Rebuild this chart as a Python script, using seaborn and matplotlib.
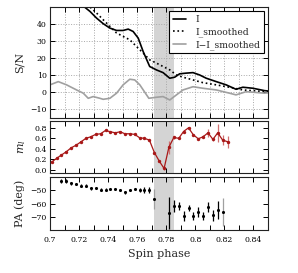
import matplotlib
matplotlib.use("Agg")
import matplotlib.pyplot as plt
import seaborn as sns
import pandas as pd

# ---------------- data ----------------
phase_I = [0.700, 0.706, 0.711, 0.718, 0.723, 0.7275, 0.732, 0.7366, 0.7412, 0.7458,
           0.7503, 0.7538, 0.7572, 0.7607, 0.7641, 0.7686, 0.7732, 0.7778, 0.7824, 0.7858,
           0.7892, 0.7938, 0.7984, 0.803, 0.8075, 0.8144, 0.8212, 0.828, 0.8327, 0.8396,
           0.8476, 0.850]
I_vals = [76, 71, 66, 56, 50.5, 47.4, 43.5, 40.2, 37.6, 36.2,
          36.2, 37.0, 35.6, 31.7, 23.8, 15.0, 13.0, 11.4, 8.1, 8.7,
          10.7, 11.1, 11.4, 10.0, 8.1, 6.1, 4.2, 1.6, 2.8, 2.2,
          0.8, 0.6]

phase_S = [0.700, 0.710, 0.720, 0.7275, 0.732, 0.7366, 0.7412, 0.7458, 0.7503, 0.7549,
           0.7595, 0.7641, 0.7686, 0.7732, 0.7778, 0.7824, 0.787, 0.7915, 0.7984, 0.8052,
           0.8144, 0.8235, 0.8327, 0.8476, 0.850]
S_vals = [72, 63, 55, 50, 46.5, 42.5, 38.6, 34.7, 32.7, 30.7,
          26.8, 22.9, 18.9, 17.0, 15.0, 13.0, 10.0, 8.7, 7.1, 5.5,
          4.2, 2.8, 1.2, 0.2, 0.1]

phase_R = [0.700, 0.7057, 0.7114, 0.7183, 0.7229, 0.7263, 0.7297, 0.7343, 0.7366, 0.7412,
           0.7458, 0.7503, 0.7549, 0.7583, 0.7618, 0.7680, 0.7732, 0.7778, 0.7824, 0.787,
           0.7915, 0.7984, 0.8052, 0.8144, 0.8235, 0.828, 0.835, 0.8476, 0.850]
R_vals = [4.2, 6.1, 4.2, 1.2, -0.7, -3.7, -2.7, -3.7, -4.3, -3.7,
          -0.7, 4.2, 7.5, 7.1, 4.2, -3.7, -3.1, -2.7, -4.7, -1.7,
          1.2, 3.1, 2.2, 1.2, -0.7, -1.7, 0.2, -0.7, -0.5]

phase_m = [0.7012, 0.7046, 0.7079, 0.7113, 0.7146, 0.7180, 0.7214, 0.7247, 0.7281, 0.7314,
           0.7348, 0.7382, 0.7415, 0.7449, 0.7482, 0.7516, 0.7550, 0.7583, 0.7617, 0.7650,
           0.7684, 0.7718, 0.7751, 0.7785, 0.7818, 0.7852, 0.7886, 0.7919, 0.7953, 0.7986,
           0.8020, 0.8054, 0.8087, 0.8121, 0.8154, 0.8188, 0.8222]
m_vals = [0.15, 0.22, 0.283, 0.347, 0.42, 0.47, 0.535, 0.60, 0.63, 0.675,
          0.687, 0.75, 0.725, 0.705, 0.725, 0.687, 0.687, 0.675, 0.61, 0.60,
          0.566, 0.33, 0.17, 0.026, 0.43, 0.617, 0.60, 0.73, 0.80, 0.668,
          0.592, 0.63, 0.705, 0.58, 0.705, 0.566, 0.535]
m_err = [0.01, 0.01, 0.01, 0.01, 0.01, 0.01, 0.01, 0.01, 0.01, 0.01,
         0.01, 0.01, 0.01, 0.01, 0.01, 0.01, 0.01, 0.01, 0.01, 0.01,
         0.015, 0.02, 0.02, 0.02, 0.12, 0.03, 0.02, 0.02, 0.02, 0.02,
         0.02, 0.03, 0.075, 0.03, 0.17, 0.095, 0.11]

phase_pa = [0.7079, 0.7113, 0.7146, 0.7180, 0.7214, 0.7247, 0.7281, 0.7314, 0.7348, 0.7382,
            0.7415, 0.7449, 0.7482, 0.7516, 0.7550, 0.7583, 0.7617, 0.7650, 0.7684, 0.7718,
            0.7818, 0.7852, 0.7886, 0.7919, 0.7953, 0.7986, 0.8020, 0.8054, 0.8087, 0.8121,
            0.8154, 0.8188]
pa_vals = [-43.2, -43.2, -45.1, -45.6, -46.9, -46.9, -48.8, -48.5, -49.8, -49.8,
           -49.3, -49.3, -50.0, -51.9, -50.0, -49.3, -50.0, -50.0, -50.0, -56.6,
           -67.0, -61.9, -61.9, -69.5, -63.4, -69.3, -66.3, -69.3, -62.7, -68.8,
           -64.6, -66.3]
pa_err = [1.5, 1.5, 1.0, 1.0, 1.0, 1.0, 1.0, 1.0, 1.0, 1.0,
          1.0, 1.0, 1.0, 1.0, 1.0, 1.0, 1.5, 2.0, 2.5, 7.3,
          11.6, 4.2, 3.0, 3.7, 2.4, 3.0, 3.9, 3.0, 3.7, 4.3,
          6.7, 10.0]

shade_range = [0.7715, 0.7853]

x_ticks = [0.70, 0.71, 0.72, 0.73, 0.74, 0.75, 0.76, 0.77, 0.78, 0.79,
           0.80, 0.81, 0.82, 0.83, 0.84, 0.85]
x_tick_labels = ['0.7', '', '0.72', '', '0.74', '', '0.76', '', '0.78', '',
                 '0.8', '', '0.82', '', '0.84', '']
sn_ticks = [-10, 0, 10, 20, 30, 40]
m_ticks = [0.0, 0.2, 0.4, 0.6, 0.8]
pa_ticks = [-50, -60, -70]

# ---------------- style ----------------
sns.set_style("ticks")
plt.rcParams['font.family'] = ['DejaVu Serif']
plt.rcParams['mathtext.fontset'] = 'dejavuserif'

fig = plt.figure(figsize=(2.98, 2.73), dpi=100)
L, W = 50 / 298, 218 / 298
ax1 = fig.add_axes([L, 1 - 118 / 273, W, 111 / 273])
ax2 = fig.add_axes([L, 1 - 173 / 273, W, 52 / 273])
ax3 = fig.add_axes([L, 1 - 230 / 273, W, 53 / 273])

red = '#a81818'

df_I = pd.DataFrame({'phase': phase_I, 'val': I_vals})
df_S = pd.DataFrame({'phase': phase_S, 'val': S_vals})
df_R = pd.DataFrame({'phase': phase_R, 'val': R_vals})
df_m = pd.DataFrame({'phase': phase_m, 'm': m_vals, 'err': m_err})
df_pa = pd.DataFrame({'phase': phase_pa, 'pa': pa_vals, 'err': pa_err})

for ax in (ax1, ax2, ax3):
    ax.axvspan(shade_range[0], shade_range[1], color='#d4d4d4', lw=0, zorder=0)

# top panel
ax1.grid(True, ls=':', color='#a8a8a8', lw=0.7)
ax1.set_axisbelow(True)
sns.lineplot(data=df_I, x='phase', y='val', ax=ax1, color='black', lw=1.2,
             sort=False, estimator=None, label='I')
sns.lineplot(data=df_S, x='phase', y='val', ax=ax1, color='black', lw=1.2,
             ls=':', sort=False, estimator=None, label='I_smoothed')
sns.lineplot(data=df_R, x='phase', y='val', ax=ax1, color='#a0a0a0', lw=1.2,
             sort=False, estimator=None, label='I\u2212I_smoothed')
ax1.set_ylim(-15.3, 50)
ax1.set_yticks(sn_ticks)
ax1.set_ylabel('S/N', fontsize=8)
leg = ax1.legend(loc='upper right', fontsize=6.6, frameon=True, fancybox=False,
                 framealpha=1, edgecolor='black', handlelength=1.45,
                 handletextpad=1.0, borderaxespad=0.45, borderpad=0.4,
                 labelspacing=0.35)
leg.get_frame().set_linewidth(0.8)

# middle panel
ax2.errorbar(df_m['phase'], df_m['m'], yerr=df_m['err'], fmt='none',
             ecolor='#d07070', elinewidth=0.9, zorder=2)
sns.lineplot(data=df_m, x='phase', y='m', ax=ax2, color=red, lw=0.9,
             sort=False, estimator=None, zorder=3)
sns.scatterplot(data=df_m, x='phase', y='m', ax=ax2, color=red, s=6,
                edgecolor=red, linewidth=0, zorder=4)
ax2.set_ylim(-0.06, 0.93)
ax2.set_yticks(m_ticks)
ax2.set_yticklabels(['0.0', '0.2', '0.4', '0.6', '0.8'])
ax2.set_ylabel('$m_l$', fontsize=8)

# bottom panel
pa_colors = ['black'] * len(phase_pa)
pa_colors[19] = '#a0a0a0'
pa_colors[-1] = '#a0a0a0'
ax3.errorbar(df_pa['phase'], df_pa['pa'], yerr=df_pa['err'], fmt='none',
             ecolor=pa_colors, elinewidth=0.9, zorder=2)
sns.scatterplot(data=df_pa, x='phase', y='pa', ax=ax3, color='black', s=5,
                linewidth=0, zorder=4)
ax3.set_ylim(-79.5, -40.5)
ax3.set_yticks(pa_ticks)
ax3.set_ylabel('PA (deg)', fontsize=8)
ax3.set_xlabel('Spin phase', fontsize=8)

for ax in (ax1, ax2, ax3):
    ax.set_xlim(0.70, 0.85)
    ax.set_xticks(x_ticks)
    if ax is ax3:
        ax.set_xticklabels(x_tick_labels)
    else:
        ax.set_xticklabels([])
        ax.set_xlabel('')
    ax.tick_params(direction='in', top=True, right=True, length=3.5,
                   width=0.7, labelsize=5.6, pad=2.5, colors='black')
    ax.tick_params(axis='x', pad=4)
    for sp in ax.spines.values():
        sp.set_visible(True)
        sp.set_color('#222222')
        sp.set_linewidth(0.8)
ax2.get_legend() and ax2.get_legend().remove()
ax3.get_legend() and ax3.get_legend().remove()

fig.savefig('out.png', dpi=100)
